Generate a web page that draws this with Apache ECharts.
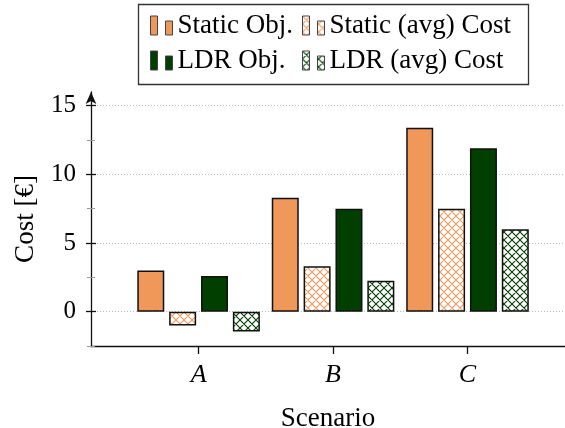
<!DOCTYPE html>
<html>
<head>
<meta charset="utf-8">
<script src="https://cdn.jsdelivr.net/npm/echarts@6/dist/echarts.min.js"></script>
<style>
  html, body { margin: 0; padding: 0; background: #fff; }
  #chart { width: 565px; height: 428px; }
</style>
</head>
<body>
<div id="chart"></div>
<script>
// data
const scenarios = ['A', 'B', 'C']
const staticObj = [3.0, 8.3, 13.4]
const staticAvg = [-1.0, 3.3, 7.5]
const ldrObj = [2.6, 7.5, 11.9]
const ldrAvg = [-1.45, 2.25, 6.0]
const yTicks = [0, 5, 10, 15]
const yMinorTicks = [-2.5, 2.5, 7.5, 12.5]

const FONT = 'Liberation Serif'
const ORANGE = '#F0975A'
const GREEN = '#003F00'

// cross hatch pattern for the (avg) bars
function hatch (color) {
  const c = document.createElement('canvas')
  c.width = 8
  c.height = 8
  const ctx = c.getContext('2d')
  ctx.fillStyle = '#fff'
  ctx.fillRect(0, 0, 8, 8)
  ctx.strokeStyle = color
  ctx.lineWidth = 1.1
  ctx.beginPath()
  ctx.moveTo(0, 0); ctx.lineTo(8, 8)
  ctx.moveTo(8, 0); ctx.lineTo(0, 8)
  ctx.moveTo(-1, 7); ctx.lineTo(1, 9)
  ctx.moveTo(7, -1); ctx.lineTo(9, 1)
  ctx.stroke()
  return { image: c, repeat: 'repeat' }
}

const toPoints = arr => arr.map((v, i) => [i, v])
const legendIcon = 'path://M0,0 h7 v19 h-7 z M15,5 h7 v14 h-7 z'

const chart = echarts.init(document.getElementById('chart'))

const yBase = {
  type: 'value',
  min: -2.5,
  max: 16,
  position: 'left',
  axisLine: { show: false, onZero: false },
  axisLabel: { show: false },
  splitLine: { show: false }
}

const legendBase = {
  orient: 'vertical',
  top: 12,
  padding: 0,
  itemGap: 8,
  itemWidth: 22,
  itemHeight: 19,
  icon: legendIcon,
  itemStyle: { borderColor: '#444', borderWidth: 1 },
  textStyle: { fontFamily: FONT, fontSize: 27, lineHeight: 26, color: '#000' }
}

function barSeries (name, values, color) {
  return {
    name,
    type: 'bar',
    data: toPoints(values),
    barWidth: 27,
    barGap: '18%',
    itemStyle: { color, borderColor: '#111', borderWidth: 1.5 }
  }
}

chart.setOption({
  animation: false,
  grid: { left: 91, right: 0, top: 92, bottom: 82, containLabel: false, outerBoundsMode: 'none' },
  legend: [
    Object.assign({}, legendBase, { left: 150, data: ['Static Obj.', 'LDR Obj.'] }),
    Object.assign({}, legendBase, { left: 302, data: ['Static (avg) Cost', 'LDR (avg) Cost'] })
  ],
  graphic: [{
    type: 'rect',
    shape: { x: 138.5, y: 4.5, width: 390, height: 80 },
    style: { fill: 'none', stroke: '#333', lineWidth: 1.3 }
  }],
  xAxis: {
    type: 'value',
    min: -0.8,
    max: 2.725,
    name: 'Scenario',
    nameLocation: 'middle',
    nameGap: 59,
    nameTextStyle: { fontFamily: FONT, fontSize: 27, color: '#000' },
    axisLine: { onZero: false, lineStyle: { color: '#111', width: 1.3 } },
    axisTick: { customValues: [0, 1, 2], length: 8, lineStyle: { color: '#111', width: 1.3 } },
    axisLabel: {
      customValues: [0, 1, 2],
      margin: 16,
      formatter: v => scenarios[v],
      fontFamily: FONT,
      fontStyle: 'italic',
      fontSize: 26,
      color: '#000'
    },
    splitLine: { show: false }
  },
  yAxis: [
    {
      type: 'value',
      min: -2.5,
      max: 16,
      position: 'left',
      name: 'Cost [€]',
      nameLocation: 'middle',
      nameGap: 52,
      nameTextStyle: { fontFamily: FONT, fontSize: 27, color: '#000' },
      axisLine: {
        show: true,
        onZero: false,
        symbol: ['none', 'arrow'],
        symbolSize: [8, 12],
        lineStyle: { color: '#111', width: 1.3 }
      },
      axisTick: { customValues: yTicks, length: 5, lineStyle: { color: '#111', width: 1.3 } },
      axisLabel: {
        customValues: yTicks,
        margin: 15,
        fontFamily: FONT,
        fontSize: 25,
        color: '#000'
      },
      splitLine: { show: true, lineStyle: { color: '#bbb', type: [1, 2], width: 1 } }
    },
    Object.assign({}, yBase, {
      axisTick: { customValues: yTicks, inside: true, length: 5, lineStyle: { color: '#111', width: 1.3 } }
    }),
    Object.assign({}, yBase, {
      axisTick: { customValues: yMinorTicks, length: 4, lineStyle: { color: '#999', width: 1 } }
    }),
    Object.assign({}, yBase, {
      axisTick: { customValues: yMinorTicks, inside: true, length: 4, lineStyle: { color: '#999', width: 1 } }
    })
  ],
  series: [
    barSeries('Static Obj.', staticObj, ORANGE),
    barSeries('Static (avg) Cost', staticAvg, hatch(ORANGE)),
    barSeries('LDR Obj.', ldrObj, GREEN),
    barSeries('LDR (avg) Cost', ldrAvg, hatch(GREEN))
  ]
})
</script>
</body>
</html>
